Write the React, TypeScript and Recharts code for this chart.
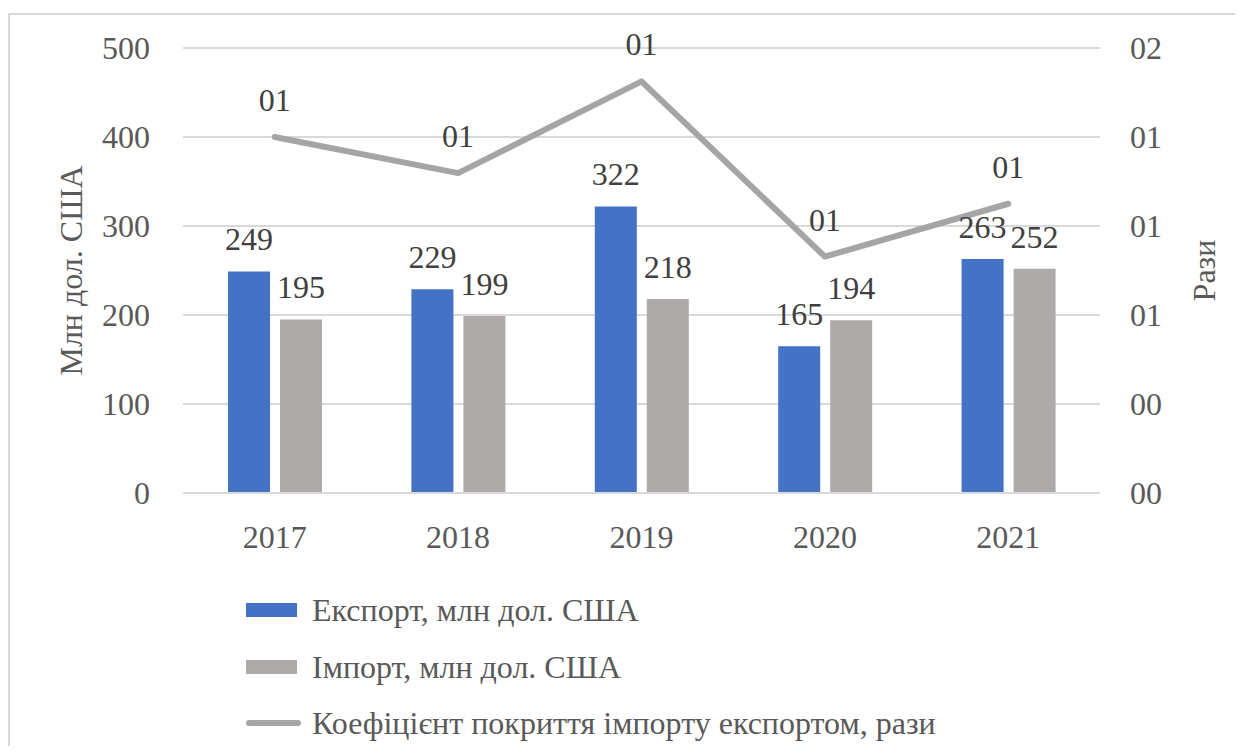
import React from 'react';
import { ComposedChart, Bar, Line, XAxis, YAxis, CartesianGrid, LabelList } from 'recharts';

const years = ['2017', '2018', '2019', '2020', '2021'];
const exportValues = [249, 229, 322, 165, 263];
const importValues = [195, 199, 218, 194, 252];
const coverageValues = [1.28, 1.15, 1.48, 0.85, 1.04];

const leftTicks = [0, 100, 200, 300, 400, 500];
const rightTicks = [0, 0.32, 0.64, 0.96, 1.28, 1.6];

const EXPORT_NAME = 'Експорт, млн дол. США';
const IMPORT_NAME = 'Імпорт, млн дол. США';
const COVERAGE_NAME = 'Коефіцієнт покриття імпорту експортом, рази';

const COLORS = {
  export: '#4472C4',
  import: '#AEAAAA',
  line: '#A5A5A5',
  grid: '#D9D9D9',
  tick: '#595959',
  label: '#404040',
};

const FONT = "'Liberation Serif', 'DejaVu Serif', serif";
const FS = 32;

const data = years.map((year, i) => ({
  year,
  export: exportValues[i],
  import: importValues[i],
  coverage: coverageValues[i],
}));

// ratio labels look like "01" in the source, keep that odd format
const ratioFormat = (v: number) => '0' + Math.round(v);

const AxisTitle = ({ viewBox, value, dx }: any) => {
  const cx = viewBox.x + viewBox.width / 2 + dx;
  const cy = viewBox.y + viewBox.height / 2;
  return (
    <text
      x={cx}
      y={cy}
      transform={`rotate(-90, ${cx}, ${cy})`}
      textAnchor="middle"
      dominantBaseline="central"
      fill={COLORS.tick}
      fontFamily={FONT}
      fontSize={FS}
    >
      {value}
    </text>
  );
};

const legendRows = [
  { name: EXPORT_NAME, color: COLORS.export, type: 'rect' },
  { name: IMPORT_NAME, color: COLORS.import, type: 'rect' },
  { name: COVERAGE_NAME, color: COLORS.line, type: 'line' },
];

const tickStyle = { fill: COLORS.tick, fontSize: FS, fontFamily: FONT };
const labelStyle = { fontSize: FS, fontFamily: FONT };

const App: React.FC = () => {
  return (
    <div style={{ position: 'relative', width: 1235, height: 738, overflow: 'hidden', fontFamily: FONT }}>
      <div
        style={{
          position: 'absolute',
          left: 0,
          top: 5,
          right: 0,
          bottom: 0,
          borderTop: `2px solid ${COLORS.grid}`,
          borderLeft: `2px solid ${COLORS.grid}`,
        }}
      />
      <div style={{ position: 'absolute', left: 0, top: 0 }}>
        <ComposedChart
          width={1235}
          height={570}
          data={data}
          margin={{ top: 40, right: 0, left: 0, bottom: 0 }}
          barGap={10}
          style={{ fontFamily: FONT }}
        >
          <CartesianGrid yAxisId="left" vertical={false} stroke={COLORS.grid} strokeWidth={2} />
          <XAxis
            dataKey="year"
            height={85}
            axisLine={{ stroke: COLORS.grid, strokeWidth: 2 }}
            tickLine={false}
            tickMargin={26}
            tick={tickStyle}
          />
          <YAxis
            yAxisId="left"
            width={175}
            domain={[0, 500]}
            ticks={leftTicks}
            axisLine={false}
            tickLine={false}
            tickMargin={27}
            tick={tickStyle}
            label={(props: any) => <AxisTitle {...props} value="Млн дол. США" dx={-25} />}
          />
          <YAxis
            yAxisId="right"
            orientation="right"
            width={143}
            domain={[0, 1.6]}
            ticks={rightTicks}
            tickFormatter={ratioFormat}
            axisLine={false}
            tickLine={false}
            tickMargin={24}
            tick={tickStyle}
            label={(props: any) => <AxisTitle {...props} value="Рази" dx={32} />}
          />
          <Bar yAxisId="left" dataKey="export" name={EXPORT_NAME} fill={COLORS.export} barSize={42} isAnimationActive={false}>
            <LabelList dataKey="export" position="top" offset={21} fill={COLORS.label} fontFamily={FONT} style={labelStyle} />
          </Bar>
          <Bar yAxisId="left" dataKey="import" name={IMPORT_NAME} fill={COLORS.import} barSize={42} isAnimationActive={false}>
            <LabelList dataKey="import" position="top" offset={21} fill={COLORS.label} fontFamily={FONT} style={labelStyle} />
          </Bar>
          <Line
            yAxisId="right"
            dataKey="coverage"
            name={COVERAGE_NAME}
            stroke={COLORS.line}
            strokeWidth={6}
            strokeLinecap="round"
            strokeLinejoin="round"
            dot={false}
            activeDot={false}
            isAnimationActive={false}
          >
            <LabelList
              dataKey="coverage"
              position="top"
              offset={26}
              formatter={(v: any) => ratioFormat(Number(v))}
              fill={COLORS.label}
              fontFamily={FONT}
              style={labelStyle}
            />
          </Line>
        </ComposedChart>
      </div>
      <div style={{ position: 'absolute', left: 238, top: 574 }}>
        {legendRows.map((row) => (
          <div key={row.name} style={{ display: 'flex', alignItems: 'center', height: 56.5 }}>
            <svg width={66} height={20}>
              {row.type === 'rect' ? (
                <rect x={0} y={3} width={51} height={14} fill={row.color} />
              ) : (
                <line x1={3} y1={10} x2={52} y2={10} stroke={row.color} strokeWidth={6} strokeLinecap="round" />
              )}
            </svg>
            <span style={{ fontSize: FS, color: COLORS.tick, lineHeight: 1, whiteSpace: 'nowrap', fontFamily: FONT }}>{row.name}</span>
          </div>
        ))}
      </div>
    </div>
  );
};

export default App;
